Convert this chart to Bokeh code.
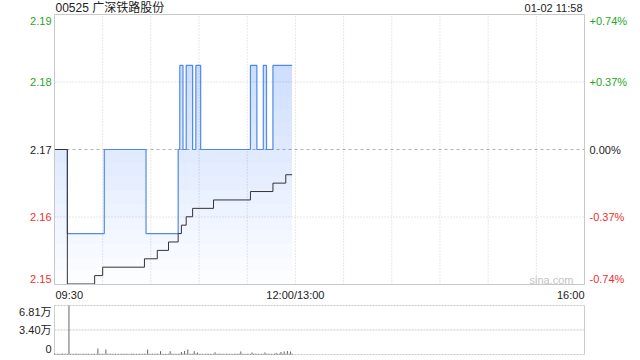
from bokeh.plotting import figure
from bokeh.models import Range1d
from bokeh.core.properties import value
from bokeh.embed import file_html
from bokeh.resources import INLINE

# ---------------- data ----------------
title_text = "00525 广深铁路股份"
stamp_text = "01-02 11:58"
prev_close = 2.17
pct_span = 0.74
pct_ticks = [0.74, 0.37, 0.0, -0.37, -0.74]
price_tick_labels = ["2.19", "2.18", "2.17", "2.16", "2.15"]
pct_tick_labels = ["+0.74%", "+0.37%", "0.00%", "-0.37%", "-0.74%"]
session_minutes = 330
grid_minutes = [30, 60, 90, 120, 150, 180, 210, 240, 270, 300]
time_label_minutes = [0, 150, 330]
time_labels = ["09:30", "12:00/13:00", "16:00"]

price_minutes = [0, 8, 31, 57, 77, 78, 80, 82, 86, 88, 91, 122, 126, 130, 132, 136, 148]
price_values = [2.17, 2.16, 2.17, 2.16, 2.17, 2.18, 2.17, 2.18, 2.17, 2.18, 2.17,
                2.18, 2.17, 2.18, 2.17, 2.18, 2.18]

avg_minutes = [0, 8, 25, 30, 56, 64, 71, 77, 79, 82, 86, 99, 122, 136, 144, 148]
avg_values = [2.170, 2.154, 2.155, 2.156, 2.157, 2.158, 2.159, 2.160, 2.161, 2.162,
              2.163, 2.164, 2.165, 2.166, 2.167, 2.167]

volume = [
    1200, 900, 1100, 800, 1000, 1300, 900, 1100, 1000, 68100,
    900, 1100, 800, 1000, 1200, 900, 1000, 800, 1100, 900,
    1000, 1200, 800, 900, 1100, 1000, 900, 8300, 1000, 900,
    1100, 800, 7000, 1000, 900, 1200, 800, 1000, 1100, 900,
    1000, 800, 1200, 900, 1000, 1100, 800, 900, 1000, 1200,
    900, 1000, 800, 1100, 900, 1000, 1200, 900, 7000, 1000,
    800, 1100, 900, 1000, 1200, 900, 4600, 1000, 800, 1100,
    900, 1000, 4600, 1200, 900, 1000, 800, 1100, 1000, 3500,
    1200, 4900, 1000, 7000, 900, 1100, 1000, 4600, 1200, 2800,
    1000, 900, 1100, 800, 1000, 1200, 900, 1000, 800, 1100,
    3000, 900, 1000, 1200, 800, 1000, 900, 1100, 1000, 900,
    1000, 800, 1100, 900, 1000, 1200, 4200, 900, 1000, 800,
    1100, 1000, 900, 2800, 1000, 1200, 900, 1000, 800, 1100,
    900, 2800, 1000, 1200, 900, 1000, 800, 1100, 2100, 1000,
    1200, 3500, 1000, 4200, 900, 4900, 1000, 4200, 1100,
]
volume_minutes = list(range(len(volume)))
vol_max = 68100
vol_tick_values = [68100, 34050, 0]
vol_tick_labels = ["6.81万", "3.40万", "0"]

# ---------------- layout (pixels) ----------------
W, H = 640, 360
FL, FR = 54, 584          # frame left / right
MT, MB = 14, 284          # main panel top / bottom
VT, VB = 305, 354         # volume panel top / bottom

FONT = "Liberation Sans, Noto Sans CJK SC"
GREEN = "#1ea81e"
RED = "#f03030"
BLACK = "#222222"
GRID = "#cfcfcf"

y_lo = prev_close * (1 - pct_span / 100)
y_hi = prev_close * (1 + pct_span / 100)
tick_prices = [prev_close * (1 + q / 100) for q in pct_ticks]

sx = (FR - FL) / session_minutes
sy = (MB - MT) / (y_hi - y_lo)
sv = (VB - VT) / vol_max

p = figure(width=W, height=H, title=None,
           x_range=Range1d(-FL / sx, session_minutes + (W - FR) / sx),
           y_range=Range1d(y_lo - (H - MB) / sy, y_hi + MT / sy),
           x_axis_type=None, y_axis_type=None, toolbar_location=None,
           output_backend="svg", min_border=0)
p.outline_line_color = None
p.extra_y_ranges = {"vol": Range1d(-(H - VB) / sv, vol_max + VT / sv)}

# main grid
p.segment(x0=grid_minutes, y0=[y_lo] * len(grid_minutes), x1=grid_minutes,
          y1=[y_hi] * len(grid_minutes), line_color=GRID, line_dash="1 2", line_width=1)
p.segment(x0=[0, 0], y0=[tick_prices[1], tick_prices[3]], x1=[session_minutes] * 2,
          y1=[tick_prices[1], tick_prices[3]], line_color=GRID, line_dash="1 2", line_width=1)
p.segment(x0=[0], y0=[prev_close], x1=[session_minutes], y1=[prev_close],
          line_color="#b0b0b0", line_dash="3 3", line_width=1)

# gradient-like fill under the price line
K = 20
for k in range(K):
    lvl = y_lo + (y_hi - y_lo) * k / K
    p.varea_step(x=price_minutes, y1=[lvl] * len(price_minutes),
                 y2=[max(v, lvl) for v in price_values], step_mode="after",
                 fill_color="#3f7fe6", fill_alpha=0.014)

p.step(price_minutes, price_values, mode="after", line_color="#4f8ae8", line_width=1.2)
p.step(avg_minutes, avg_values, mode="after", line_color="#333333", line_width=1)

# main outline
p.quad(left=[0], right=[session_minutes], bottom=[y_lo], top=[y_hi],
       fill_color=None, line_color="#c8c8c8", line_width=1)


def txt(x, y, texts, colors, align, xo=0, yo=0, size="11px", yr="default"):
    p.text(x=x, y=y, text=texts, text_color=colors, text_align=align,
           text_baseline="middle", x_offset=xo, y_offset=yo,
           text_font=value(FONT), text_font_size=size, y_range_name=yr)


def col_for(q):
    return GREEN if q > 0 else (RED if q < 0 else BLACK)


n = len(tick_prices)
for i, (tp, q) in enumerate(zip(tick_prices, pct_ticks)):
    yo = 6 if i == 0 else (-6 if i == n - 1 else 0)
    txt([0], [tp], [price_tick_labels[i]], col_for(q), "right", xo=-3, yo=yo)
    txt([session_minutes], [tp], [pct_tick_labels[i]], col_for(q), "left", xo=5, yo=yo)

txt([0], [y_hi], [title_text], BLACK, "left", xo=1, yo=-7, size="12px")
txt([session_minutes], [y_hi], [stamp_text], BLACK, "right", xo=-2, yo=-7)
txt([session_minutes], [y_lo], ["sina.com"], "#c4c4c4", "right", xo=-11, yo=-5, size="11px")

aligns = ["left", "center", "right"]
for m, t, a in zip(time_label_minutes, time_labels, aligns):
    txt([m], [y_lo], [t], BLACK, a, xo=1 if a == "left" else 0, yo=10)

# ---------------- volume panel ----------------
p.segment(x0=[0] * 3, y0=vol_tick_values, x1=[session_minutes] * 3, y1=vol_tick_values,
          line_color="#c8c8c8", line_dash="2 1", line_width=1, y_range_name="vol")
p.segment(x0=[0, session_minutes], y0=[0, 0], x1=[0, session_minutes], y1=[vol_max, vol_max],
          line_color="#cccccc", line_width=1, y_range_name="vol")
p.segment(x0=volume_minutes, y0=[0] * len(volume), x1=volume_minutes, y1=volume,
          line_color="#666666", line_width=1, y_range_name="vol")

vol_yo = [6, 0, -6]
for tv, tl, yo in zip(vol_tick_values, vol_tick_labels, vol_yo):
    txt([0], [tv], [tl], BLACK, "right", xo=-3, yo=yo, yr="vol")

open("out.html", "w").write(file_html(p, INLINE))
